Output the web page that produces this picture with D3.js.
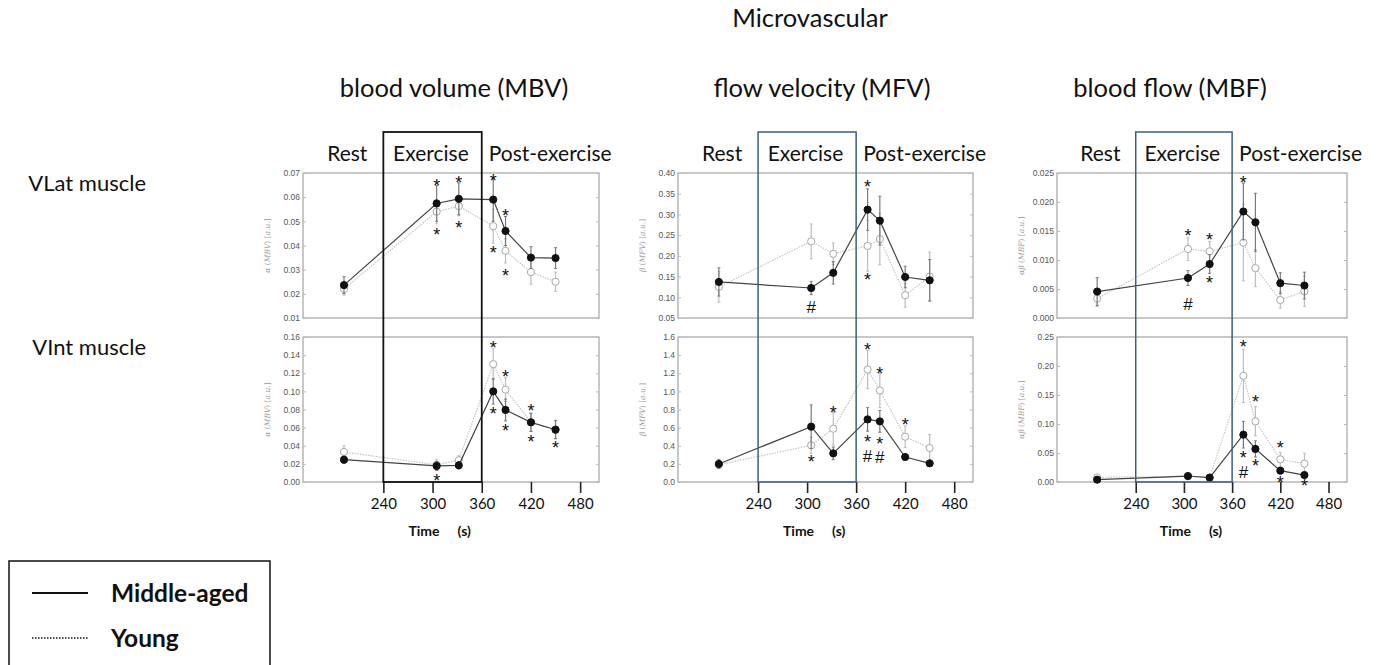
<!DOCTYPE html>
<html>
<head>
<meta charset="utf-8">
<script src="https://cdn.jsdelivr.net/npm/d3@7"></script>
<style>
  body { margin: 0; background: #fff; }
  svg { display: block; }
</style>
</head>
<body>
<div id="chart"></div>
<script>
// sampling times (s), shared by all panels
const TIMES = [192, 305, 332, 374, 389, 420, 450];
const X_TICKS = [240, 300, 360, 420, 480];
const PHASES = ['Rest', 'Exercise', 'Post-exercise'];
const COLUMN_TITLES = ['blood volume (MBV)', 'flow velocity (MFV)', 'blood flow (MBF)'];
const ROW_TITLES = ['VLat muscle', 'VInt muscle'];
const SERIES = ['Middle-aged', 'Young'];

// MBV, VLat
const mbvVlatMid      = [0.0236, 0.0574, 0.0593, 0.0590, 0.0460, 0.0350, 0.0348];
const mbvVlatMidErr   = [0.0035, 0.0074, 0.0066, 0.0090, 0.0060, 0.0045, 0.0043];
const mbvVlatYoung    = [0.0220, 0.0540, 0.0563, 0.0480, 0.0378, 0.0290, 0.0250];
const mbvVlatYoungErr = [0.0025, 0.0050, 0.0040, 0.0070, 0.0050, 0.0050, 0.0040];
const mbvVlatTicks    = [0.01, 0.02, 0.03, 0.04, 0.05, 0.06, 0.07];
const mbvVlatMarks    = [[1, 0.0666, '*'], [1, 0.0461, '*'], [2, 0.0679, '*'], [2, 0.0489, '*'],
                         [3, 0.0686, '*'], [3, 0.0386, '*'], [4, 0.0541, '*'], [4, 0.0293, '*']];

// MBV, VInt
const mbvVintMid      = [0.0246, 0.0177, 0.0184, 0.100, 0.0795, 0.0658, 0.0577];
const mbvVintMidErr   = [0.004, 0.005, 0.004, 0.014, 0.012, 0.010, 0.010];
const mbvVintYoung    = [0.0331, 0.019, 0.024, 0.130, 0.102, 0.066, 0.058];
const mbvVintYoungErr = [0.007, 0.006, 0.005, 0.017, 0.013, 0.010, 0.010];
const mbvVintTicks    = [0.00, 0.02, 0.04, 0.06, 0.08, 0.10, 0.12, 0.14, 0.16];
const mbvVintMarks    = [[3, 0.153, '*'], [4, 0.121, '*'], [3, 0.080, '*'], [4, 0.061, '*'],
                         [5, 0.083, '*'], [5, 0.0486, '*'], [6, 0.042, '*'], [1, 0.0055, '*']];

// MFV, VLat
const mfvVlatMid      = [0.137, 0.1224, 0.159, 0.3115, 0.285, 0.149, 0.141];
const mfvVlatMidErr   = [0.034, 0.016, 0.027, 0.050, 0.059, 0.026, 0.050];
const mfvVlatYoung    = [0.125, 0.235, 0.205, 0.224, 0.2407, 0.105, 0.150];
const mfvVlatYoungErr = [0.037, 0.042, 0.026, 0.061, 0.062, 0.029, 0.059];
const mfvVlatTicks    = [0.05, 0.10, 0.15, 0.20, 0.25, 0.30, 0.35, 0.40];
const mfvVlatMarks    = [[3, 0.376, '*'], [3, 0.152, '*'], [1, 0.078, '#']];

// MFV, VInt ('*#' = asterisk stacked over hash)
const mfvVintMid      = [0.199, 0.611, 0.316, 0.691, 0.669, 0.276, 0.206];
const mfvVintMidErr   = [0.05, 0.24, 0.07, 0.13, 0.12, 0.03, 0.02];
const mfvVintYoung    = [0.19, 0.405, 0.588, 1.24, 1.01, 0.50, 0.375];
const mfvVintYoungErr = [0.04, 0.09, 0.18, 0.21, 0.19, 0.12, 0.15];
const mfvVintTicks    = [0.0, 0.2, 0.4, 0.6, 0.8, 1.0, 1.2, 1.4, 1.6];
const mfvVintMarks    = [[3, 1.508, '*'], [4, 1.243, '*'], [5, 0.673, '*'], [2, 0.809, '*'],
                         [1, 0.265, '*'], [3, 0.486, '*#'], [4, 0.471, '*#']];

// MBF, VLat
const mbfVlatMid      = [0.00456, 0.0069, 0.0093, 0.01836, 0.0165, 0.0060, 0.0056];
const mbfVlatMidErr   = [0.0024, 0.0013, 0.0016, 0.0049, 0.0050, 0.0018, 0.0023];
const mbfVlatYoung    = [0.00335, 0.0119, 0.0115, 0.0130, 0.0086, 0.0031, 0.0046];
const mbfVlatYoungErr = [0.0014, 0.0020, 0.0017, 0.0066, 0.0032, 0.0014, 0.0026];
const mbfVlatTicks    = [0.000, 0.005, 0.010, 0.015, 0.020, 0.025];
const mbfVlatMarks    = [[1, 0.0149, '*'], [2, 0.01415, '*'], [3, 0.0241, '*'], [2, 0.0068, '*'], [1, 0.0025, '#']];

// MBF, VInt
const mbfVintMid      = [0.004, 0.0103, 0.0075, 0.0816, 0.057, 0.0195, 0.012];
const mbfVintMidErr   = [0.002, 0.003, 0.002, 0.023, 0.014, 0.005, 0.004];
const mbfVintYoung    = [0.008, 0.0098, 0.0075, 0.183, 0.1046, 0.039, 0.0316];
const mbfVintYoungErr = [0.003, 0.003, 0.002, 0.046, 0.025, 0.012, 0.018];
const mbfVintTicks    = [0.00, 0.05, 0.10, 0.15, 0.20, 0.25];
const mbfVintMarks    = [[3, 0.240, '*'], [4, 0.145, '*'], [5, 0.066, '*'], [3, 0.049, '*#'],
                         [4, 0.0345, '*'], [5, 0.0057, '*'], [6, 0.000, '*']];

// layout
const W = 1379, H = 665;
const COL_X = [303, 678, 1057];
const COL_W = [296, 295, 290];
const ROW_Y = [173, 337];
const PLOT_H = 145;
const BOX_TOP = 132;
const TITLE_X = [454, 822, 1170];
const X_DOMAIN = [142, 503];
const FONT = "Lato, 'Open Sans', sans-serif";
const SERIF = "'DejaVu Serif', 'Liberation Serif', serif";
const MARK_FONT = "'Liberation Sans', Arial, sans-serif";

const panels = [
  { col: 0, row: 0, mid: mbvVlatMid, midErr: mbvVlatMidErr, young: mbvVlatYoung, youngErr: mbvVlatYoungErr, ticks: mbvVlatTicks, marks: mbvVlatMarks, fmt: '.2f', sym: 'α', name: 'MBV' },
  { col: 0, row: 1, mid: mbvVintMid, midErr: mbvVintMidErr, young: mbvVintYoung, youngErr: mbvVintYoungErr, ticks: mbvVintTicks, marks: mbvVintMarks, fmt: '.2f', sym: 'α', name: 'MBV' },
  { col: 1, row: 0, mid: mfvVlatMid, midErr: mfvVlatMidErr, young: mfvVlatYoung, youngErr: mfvVlatYoungErr, ticks: mfvVlatTicks, marks: mfvVlatMarks, fmt: '.2f', sym: 'β', name: 'MFV' },
  { col: 1, row: 1, mid: mfvVintMid, midErr: mfvVintMidErr, young: mfvVintYoung, youngErr: mfvVintYoungErr, ticks: mfvVintTicks, marks: mfvVintMarks, fmt: '.1f', sym: 'β', name: 'MFV' },
  { col: 2, row: 0, mid: mbfVlatMid, midErr: mbfVlatMidErr, young: mbfVlatYoung, youngErr: mbfVlatYoungErr, ticks: mbfVlatTicks, marks: mbfVlatMarks, fmt: '.3f', sym: 'αβ', name: 'MBF' },
  { col: 2, row: 1, mid: mbfVintMid, midErr: mbfVintMidErr, young: mbfVintYoung, youngErr: mbfVintYoungErr, ticks: mbfVintTicks, marks: mbfVintMarks, fmt: '.2f', sym: 'αβ', name: 'MBF' },
];

const svg = d3.select('#chart').append('svg')
  .attr('width', W)
  .attr('height', H)
  .style('font-family', FONT);

svg.append('text')
  .attr('x', 810).attr('y', 27)
  .attr('text-anchor', 'middle')
  .attr('font-size', 25.5)
  .attr('fill', '#111')
  .text('Microvascular');

COLUMN_TITLES.forEach((t, i) => {
  svg.append('text')
    .attr('x', TITLE_X[i]).attr('y', 97)
    .attr('text-anchor', 'middle')
    .attr('font-size', 25.5)
    .attr('fill', '#111')
    .text(t);
});

ROW_TITLES.forEach((t, i) => {
  svg.append('text')
    .attr('x', 146).attr('y', i === 0 ? 191 : 355)
    .attr('text-anchor', 'end')
    .attr('font-size', 22)
    .attr('fill', '#111')
    .text(t);
});

const xScales = COL_X.map((x0, c) => d3.scaleLinear().domain(X_DOMAIN).range([x0, x0 + COL_W[c]]));

// phase labels
xScales.forEach((x, c) => {
  const g = svg.append('g').attr('font-size', 21).attr('fill', '#111');
  g.append('text').attr('x', x(196)).attr('y', 161).attr('text-anchor', 'middle').text(PHASES[0]);
  g.append('text').attr('x', x(298)).attr('y', 161).attr('text-anchor', 'middle').text(PHASES[1]);
  g.append('text').attr('x', x(360) + 7).attr('y', 161).text(PHASES[2]);
});

panels.forEach(p => {
  const x = xScales[p.col];
  const top = ROW_Y[p.row];
  const y = d3.scaleLinear()
    .domain([p.ticks[0], p.ticks[p.ticks.length - 1]])
    .range([top + PLOT_H, top]);
  const [x0, x1] = x.range();
  const g = svg.append('g');

  g.append('rect')
    .attr('x', x0).attr('y', top)
    .attr('width', x1 - x0).attr('height', PLOT_H)
    .attr('fill', 'none')
    .attr('stroke', '#a3a3a3')
    .attr('stroke-width', 1.2);

  // y axis, ticks inside
  const yAxis = g.append('g')
    .attr('transform', `translate(${x0},0)`)
    .call(d3.axisLeft(y).tickValues(p.ticks).tickFormat(d3.format(p.fmt)).tickSize(-3).tickPadding(3));
  yAxis.select('.domain').remove();
  yAxis.selectAll('line').attr('stroke', '#bbb');
  yAxis.selectAll('text')
    .attr('font-family', "'Liberation Sans', Arial, sans-serif")
    .attr('font-size', 8.5)
    .attr('fill', '#555');

  const yRight = g.append('g')
    .attr('transform', `translate(${x1},0)`)
    .call(d3.axisRight(y).tickValues(p.ticks).tickSize(-3).tickFormat(''));
  yRight.select('.domain').remove();
  yRight.selectAll('line').attr('stroke', '#bbb');

  // y label
  const lab = g.append('text')
    .attr('transform', `translate(${x0 - 33},${top + PLOT_H / 2}) rotate(-90)`)
    .attr('text-anchor', 'middle')
    .attr('font-family', SERIF)
    .attr('font-size', 7.5)
    .attr('fill', '#999');
  lab.append('tspan').attr('font-style', 'italic').text(p.sym);
  lab.append('tspan').text(' (');
  lab.append('tspan').attr('font-style', 'italic').text(p.name);
  lab.append('tspan').text(') [');
  lab.append('tspan').attr('font-style', 'italic').text('a.u.');
  lab.append('tspan').text(']');

  const drawSeries = (vals, errs, lineColor, errColor, dash, fill, stroke) => {
    const pts = TIMES.map((t, i) => ({ t, v: vals[i], e: errs[i] }));
    const s = g.append('g');
    s.selectAll('line.err')
      .data(pts)
      .join('line')
      .attr('class', 'err')
      .attr('x1', d => x(d.t)).attr('x2', d => x(d.t))
      .attr('y1', d => y(Math.max(d.v - d.e, p.ticks[0]))).attr('y2', d => y(d.v + d.e))
      .attr('stroke', errColor).attr('stroke-width', 1.2);
    s.selectAll('path.cap')
      .data(pts)
      .join('path')
      .attr('class', 'cap')
      .attr('d', d => `M${x(d.t) - 1.5},${y(d.v + d.e)}h3M${x(d.t) - 1.5},${y(Math.max(d.v - d.e, p.ticks[0]))}h3`)
      .attr('stroke', errColor).attr('stroke-width', 1);
    s.append('path')
      .datum(pts)
      .attr('d', d3.line().x(d => x(d.t)).y(d => y(d.v)))
      .attr('fill', 'none')
      .attr('stroke', lineColor)
      .attr('stroke-width', 1.2)
      .attr('stroke-dasharray', dash);
    s.selectAll('circle')
      .data(pts)
      .join('circle')
      .attr('cx', d => x(d.t)).attr('cy', d => y(d.v))
      .attr('r', 3.6)
      .attr('fill', fill)
      .attr('stroke', stroke)
      .attr('stroke-width', 1);
  };

  drawSeries(p.young, p.youngErr, '#c4c4c4', '#bdbdbd', '1.5,1.2', '#fff', '#a8a8a8');
  drawSeries(p.mid, p.midErr, '#444', '#7a7a7a', null, '#111', '#111');

  // significance marks; the anchor value is the centre of the first glyph
  const marks = g.selectAll('text.mark')
    .data(p.marks)
    .join('text')
    .attr('class', 'mark')
    .attr('x', d => x(TIMES[d[0]]))
    .attr('y', d => y(d[1]))
    .attr('text-anchor', 'middle')
    .attr('font-family', MARK_FONT)
    .attr('fill', '#111');
  marks.each(function (d) {
    const t = d3.select(this);
    const cx = x(TIMES[d[0]]);
    d[2].split('').forEach((ch, k) => {
      t.append('tspan')
        .attr('x', cx)
        .attr('dy', k === 0 ? (ch === '*' ? '0.58em' : '0.36em') : '0.8em')
        .attr('font-size', ch === '*' ? 18 : 17)
        .text(ch);
    });
  });

  // bottom time axis on lower row
  if (p.row === 1) {
    const xa = g.append('g')
      .attr('transform', `translate(0,${top + PLOT_H})`)
      .call(d3.axisBottom(x).tickValues(X_TICKS).tickSize(11).tickPadding(5).tickFormat(d3.format('d')));
    xa.select('.domain').remove();
    xa.selectAll('line').attr('stroke', '#222').attr('stroke-width', 1.6);
    xa.selectAll('text')
      .attr('font-family', FONT)
      .attr('font-size', 15)
      .attr('fill', '#111');

    const tg = g.append('g')
      .attr('font-size', 14)
      .attr('font-weight', 'bold')
      .attr('fill', '#111');
    tg.append('text').attr('x', x(300) + 7).attr('y', 536).attr('text-anchor', 'end').text('Time');
    tg.append('text').attr('x', x(300) + 25).attr('y', 536).text('(s)');
  }
});

// exercise boxes
xScales.forEach((x, c) => {
  svg.append('rect')
    .attr('x', x(240)).attr('y', BOX_TOP)
    .attr('width', x(360) - x(240))
    .attr('height', ROW_Y[1] + PLOT_H - BOX_TOP)
    .attr('fill', 'none')
    .attr('stroke', c === 0 ? '#111' : '#3b5f88')
    .attr('stroke-width', c === 0 ? 1.8 : 1.5);
});

// legend
const leg = svg.append('g');
leg.append('rect')
  .attr('x', 9).attr('y', 561)
  .attr('width', 261).attr('height', 120)
  .attr('fill', 'none')
  .attr('stroke', '#111')
  .attr('stroke-width', 1.5);
SERIES.forEach((s, i) => {
  const yy = 593 + i * 45;
  leg.append('line')
    .attr('x1', 32).attr('x2', 88)
    .attr('y1', yy).attr('y2', yy)
    .attr('stroke', '#111')
    .attr('stroke-width', i === 0 ? 2 : 1.5)
    .attr('stroke-dasharray', i === 0 ? null : '1.5,1.5');
  leg.append('text')
    .attr('x', 111).attr('y', yy + 9)
    .attr('font-size', 24.5)
    .attr('font-weight', 'bold')
    .attr('fill', '#111')
    .text(s);
});
</script>
</body>
</html>
